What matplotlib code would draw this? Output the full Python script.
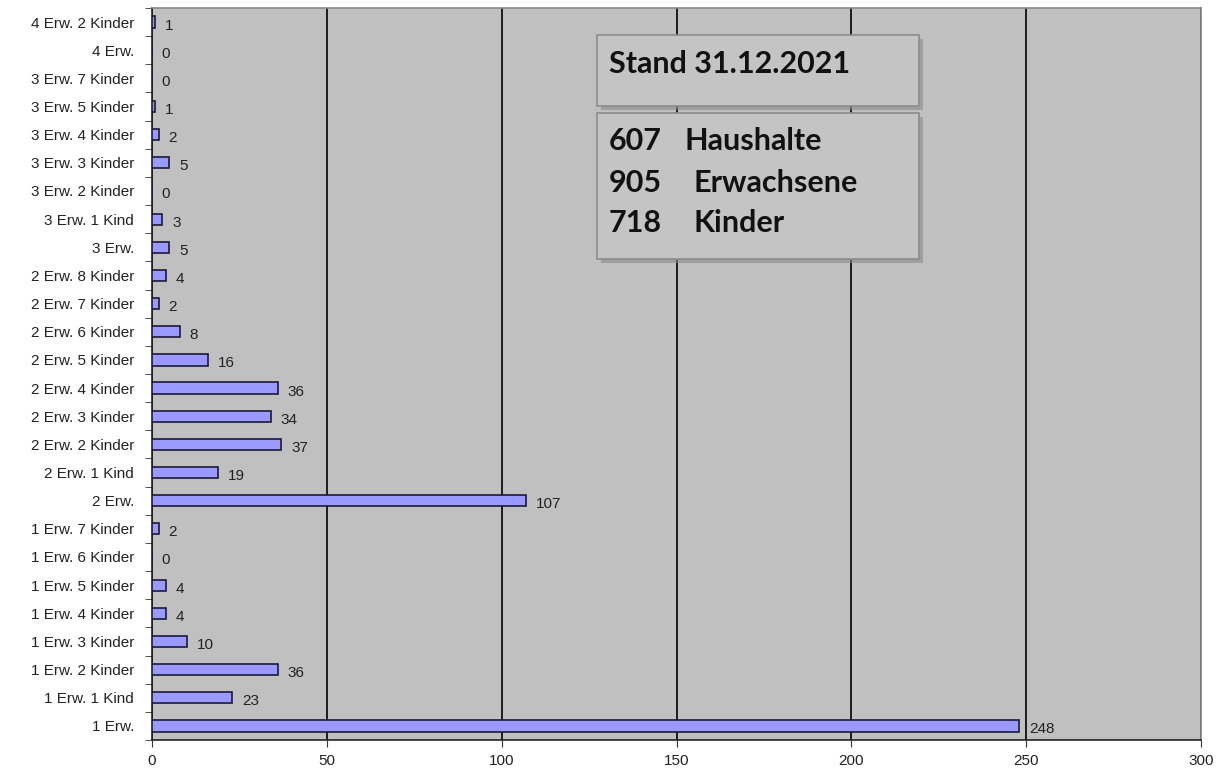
import matplotlib

matplotlib.use("Agg")
import matplotlib.pyplot as plt
from matplotlib.patches import Rectangle

# household types, bottom to top as drawn
categories = [
    "1 Erw.", "1 Erw. 1 Kind", "1 Erw. 2 Kinder", "1 Erw. 3 Kinder",
    "1 Erw. 4 Kinder", "1 Erw. 5 Kinder", "1 Erw. 6 Kinder", "1 Erw. 7 Kinder",
    "2 Erw.", "2 Erw. 1 Kind", "2 Erw. 2 Kinder", "2 Erw. 3 Kinder",
    "2 Erw. 4 Kinder", "2 Erw. 5 Kinder", "2 Erw. 6 Kinder", "2 Erw. 7 Kinder",
    "2 Erw. 8 Kinder", "3 Erw.", "3 Erw. 1 Kind", "3 Erw. 2 Kinder",
    "3 Erw. 3 Kinder", "3 Erw. 4 Kinder", "3 Erw. 5 Kinder", "3 Erw. 7 Kinder",
    "4 Erw.", "4 Erw. 2 Kinder",
]
counts = [248, 23, 36, 10, 4, 4, 0, 2, 107, 19, 37, 34, 36, 16, 8, 2, 4, 5, 3, 0, 5, 2, 1, 0, 0, 1]

x_ticks = [0, 50, 100, 150, 200, 250, 300]

stand_title = "Stand 31.12.2021"
summary_numbers = ["607", "905", "718"]
summary_labels = ["Haushalte", "Erwachsene", "Kinder"]

W, H = 1219, 772
fig = plt.figure(figsize=(W / 100, H / 100), dpi=100, facecolor="white")
ax = fig.add_axes([152 / W, 1 - 740 / H, (1201 - 152) / W, (740 - 8) / H])
ax.set_facecolor("#c0c0c0")

ypos = list(range(len(categories)))
ax.barh(ypos, counts, height=0.4, color="#9999ff", edgecolor="#1a1a3a", linewidth=1.2, zorder=3)

for y, v in zip(ypos, counts):
    ax.annotate(str(v), (v, y), xytext=(7, -2.5), textcoords="offset points",
                ha="left", va="center", fontsize=11, family="Liberation Sans",
                color="#222222", zorder=4)

ax.set_xlim(0, 300)
ax.set_ylim(-0.5, len(categories) - 0.5)
ax.set_xticks(x_ticks)
ax.set_xticklabels([str(t) for t in x_ticks], fontsize=11, family="Liberation Sans", color="#222222")
ax.set_yticks(ypos)
ax.set_yticklabels(categories, fontsize=11, family="Liberation Sans", color="#222222")
ax.set_yticks([i + 0.5 for i in range(-1, len(categories))], minor=True)
ax.tick_params(axis="y", which="major", length=0, pad=13)
ax.tick_params(axis="y", which="minor", length=5, direction="out", color="#333333")
ax.tick_params(axis="x", length=5, direction="out", color="#333333", pad=5)

ax.xaxis.grid(True, color="black", linewidth=1.2, zorder=1)
ax.set_axisbelow(True)
for side in ("left", "bottom"):
    ax.spines[side].set_color("#222222")
    ax.spines[side].set_linewidth(1.2)
for side in ("top", "right"):
    ax.spines[side].set_color("#888888")
    ax.spines[side].set_linewidth(1.2)


def px_box(x0, y0, x1, y1):
    # box given in pixel coords from the top-left, with a soft drop shadow
    shadow = Rectangle(((x0 + 4) / W, 1 - (y1 + 4) / H), (x1 - x0) / W, (y1 - y0) / H,
                       transform=fig.transFigure, facecolor="#8a8a8a", edgecolor="none",
                       alpha=0.6, zorder=5)
    box = Rectangle((x0 / W, 1 - y1 / H), (x1 - x0) / W, (y1 - y0) / H,
                    transform=fig.transFigure, facecolor="#c4c4c4", edgecolor="#8c8c8c",
                    linewidth=1.2, zorder=6)
    fig.add_artist(shadow)
    fig.add_artist(box)


px_box(597, 35, 919, 106)
px_box(597, 113, 919, 259)

box_font = dict(family="Lato", fontweight="bold", fontsize=22, color="#111111",
                va="baseline", zorder=7)
fig.text(609 / W, 1 - 73 / H, stand_title, **box_font)
for num, lab, base, lx in zip(summary_numbers, summary_labels, [150, 192, 232], [685, 693, 693]):
    fig.text(609 / W, 1 - base / H, num, **box_font)
    fig.text(lx / W, 1 - base / H, lab, **box_font)

fig.savefig("out.png", dpi=100, facecolor="white")
